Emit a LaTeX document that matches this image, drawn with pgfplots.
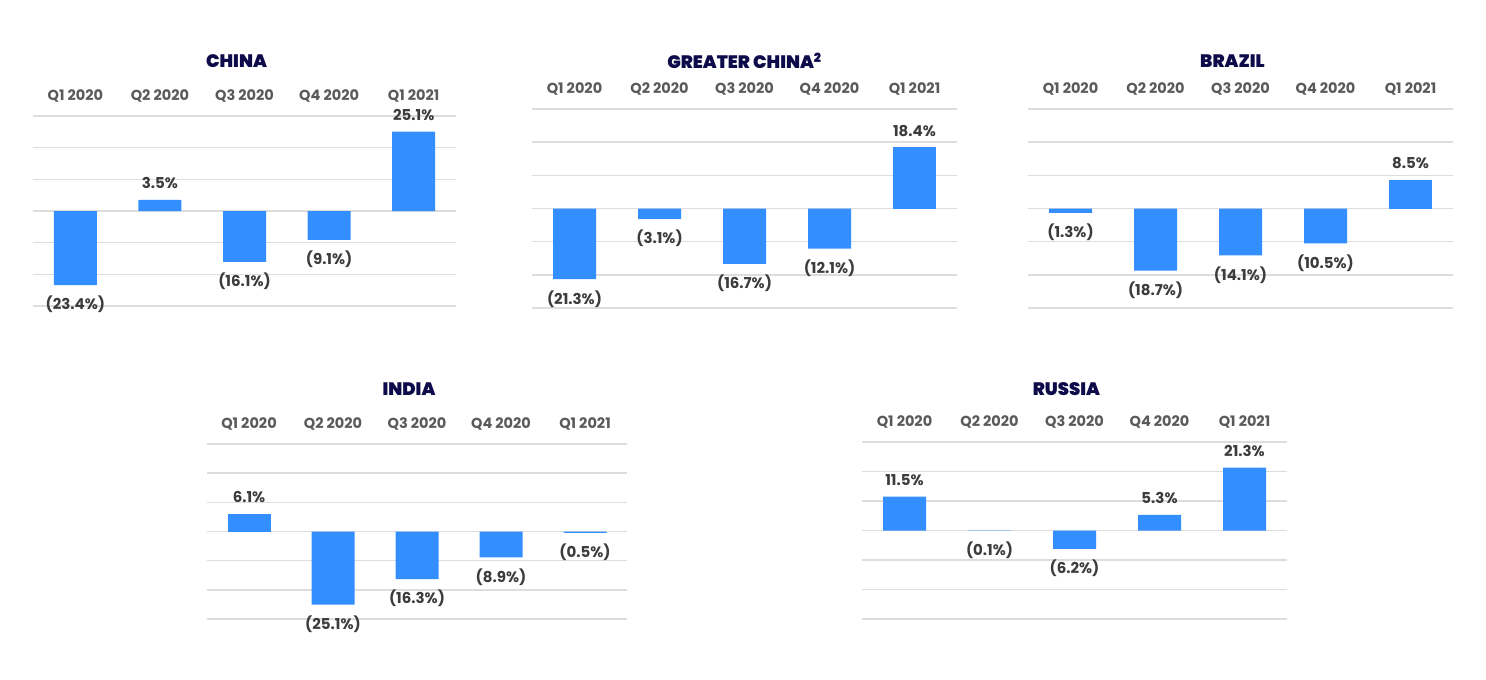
\documentclass[border=0pt]{standalone}
\usepackage{fontspec}
\setmainfont{Poppins}
\newfontfamily\semifont{Poppins}[UprightFont=*-Bold]
\newfontfamily\titlefont{Poppins}[UprightFont=*-Black]
\usepackage{pgfplots}
\pgfplotsset{compat=1.18}
\definecolor{barc}{HTML}{338FFF}
\definecolor{gridc}{HTML}{DDDDDD}
\definecolor{tickc}{HTML}{5A5A5A}
\definecolor{labc}{HTML}{3C3C3C}
\definecolor{titlec}{HTML}{0D0B4A}
\pgfplotsset{
  panel/.style={
    scale only axis, anchor=south west,
    ymin=-30, ymax=30, ytick={-30,-20,...,30}, yticklabel=\empty,
    ymajorgrids, grid style={line width=1.4pt, color=gridc},
    axis line style={draw=none}, major tick length=0pt,
    xmin=-0.5, xmax=4.5, xtick={0,...,4},
    xticklabels={Q1 2020,Q2 2020,Q3 2020,Q4 2020,Q1 2021},
    xticklabel pos=upper,
    xticklabel style={anchor=center, yshift=20pt, font=\semifont\fontsize{14.5}{15}\selectfont, text=tickc},
    ybar, bar width=43pt,
    nodes near coords, point meta=explicit symbolic,
    nodes near coords style={font=\semifont\fontsize{15}{16}\selectfont, text=labc, inner sep=5pt},
    title style={anchor=center, at={(0.5,1)}, xshift=-8pt, font=\titlefont\fontsize{18}{19}\selectfont, text=titlec},
  },
  pos/.style={fill=barc, draw=none, bar shift=0pt, nodes near coords style={anchor=south, yshift=6pt}},
  neg/.style={fill=barc, draw=none, bar shift=0pt, nodes near coords style={anchor=north, yshift=-6pt}},
}
\begin{document}
\begin{tikzpicture}
\path[use as bounding box, fill=white] (0pt,0pt) rectangle (1486pt,-680pt);
% CHINA
\begin{axis}[panel, at={(33pt,-306pt)}, width=423pt, height=190pt,
  title={CHINA}, title style={yshift=49pt}]
\addplot[pos] table[meta=l] {
x y l
1 3.5 3.5\%
4 25.1 25.1\%
};
\addplot[neg] table[meta=l] {
x y l
0 -23.4 (23.4\%)
2 -16.1 (16.1\%)
3 -9.1 (9.1\%)
};
\end{axis}
% GREATER CHINA
\begin{axis}[panel, at={(532pt,-308pt)}, width=425pt, height=199pt,
  title={GREATER CHINA\textsuperscript{2}}, title style={yshift=42pt, xshift=8pt}]
\addplot[pos] table[meta=l] {
x y l
4 18.4 18.4\%
};
\addplot[neg] table[meta=l] {
x y l
0 -21.3 (21.3\%)
1 -3.1 (3.1\%)
2 -16.7 (16.7\%)
3 -12.1 (12.1\%)
};
\end{axis}
% BRAZIL
\begin{axis}[panel, at={(1028pt,-308pt)}, width=425pt, height=199pt,
  title={BRAZIL}, title style={yshift=42pt}]
\addplot[pos] table[meta=l] {
x y l
4 8.5 8.5\%
};
\addplot[neg] table[meta=l] {
x y l
0 -1.3 (1.3\%)
1 -18.7 (18.7\%)
2 -14.1 (14.1\%)
3 -10.5 (10.5\%)
};
\end{axis}
% INDIA
\begin{axis}[panel, at={(207pt,-619pt)}, width=420pt, height=175pt,
  title={INDIA}, title style={yshift=49pt}]
\addplot[pos] table[meta=l] {
x y l
0 6.1 6.1\%
};
\addplot[neg] table[meta=l] {
x y l
1 -25.1 (25.1\%)
2 -16.3 (16.3\%)
3 -8.9 (8.9\%)
4 -0.5 (0.5\%)
};
\end{axis}
% RUSSIA
\begin{axis}[panel, at={(862pt,-619pt)}, width=425pt, height=177pt,
  title={RUSSIA}, title style={yshift=47pt}]
\addplot[pos] table[meta=l] {
x y l
0 11.5 11.5\%
3 5.3 5.3\%
4 21.3 21.3\%
};
\addplot[neg] table[meta=l] {
x y l
1 -0.1 (0.1\%)
2 -6.2 (6.2\%)
};
\end{axis}
\end{tikzpicture}
\end{document}
